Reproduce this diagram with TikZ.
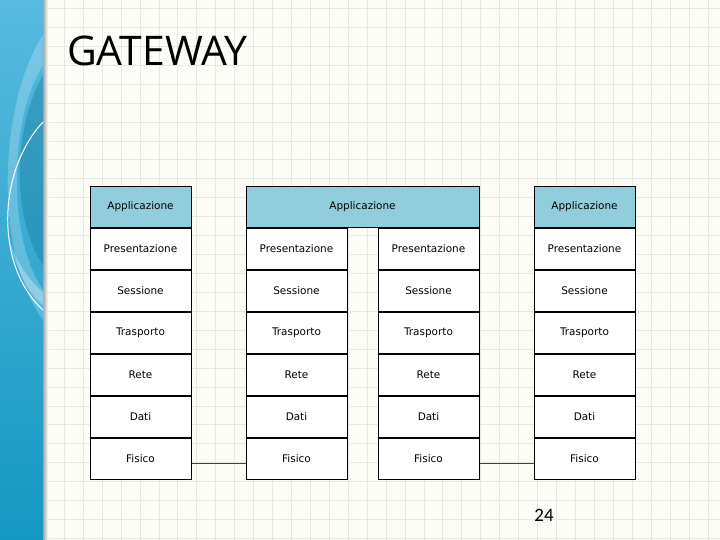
\documentclass[tikz,border=0pt]{standalone}
\usepackage{fontspec}
\setmainfont{DejaVu Sans}
\newfontfamily\slidefont{Open Sans}
\newfontfamily\numfont{Carlito}
\usepackage{tikz}
\usetikzlibrary{positioning,calc}
\definecolor{paper}{RGB}{253,253,248}
\definecolor{gridline}{RGB}{232,232,226}
\definecolor{appfill}{RGB}{146,205,222}
\definecolor{bartop}{RGB}{88,186,224}
\definecolor{barbot}{RGB}{20,152,194}
\tikzstyle{layer} = [rectangle, draw=black, line width=1pt, fill=white,
                     minimum width=101bp, minimum height=41bp, inner sep=0pt,
                     font=\fontsize{10.5}{12}\selectfont]
\tikzstyle{app}   = [layer, fill=appfill]
\tikzstyle{link}  = [line width=0.6pt, draw=black!75]

\begin{document}
\begin{tikzpicture}[x=1bp,y=-1bp,
		gridrule/.style={draw=gridline, line width=0.6pt},
		titletext/.style={font=\slidefont\fontsize{41}{46}\selectfont, anchor=base west, inner sep=0pt},
		pagetext/.style={font=\numfont\fontsize{19}{22}\selectfont}
	]
		\useasboundingbox (0,0) rectangle (720,540);
		\fill[paper] (0,0) rectangle (720,540);
		\foreach \k in {0,...,37}
			\draw[gridrule] ({7.4+18.93*\k},0) -- ++(0,540);
		\foreach \k in {0,...,28}
			\draw[gridrule] (0,{8.3+18.93*\k}) -- ++(720,0);

		% side bar
		\shade[top color=bartop, bottom color=barbot] (0,0) rectangle (43,540);
		\shade[left color=black!35, right color=paper] (43,0) rectangle (48,540);
		\begin{scope}
			\clip (0,0) rectangle (43,540);
			\fill[white, opacity=0.22] (43,35) .. controls (0,100) and (-8,250) .. (43,320)
				-- (43,290) .. controls (8,240) and (8,120) .. (43,65) -- cycle;
			\fill[barbot!75!black, opacity=0.35] (43,75) .. controls (12,130) and (12,220) .. (43,265) -- cycle;
			\fill[white, opacity=0.3] (8,235) .. controls (15,270) and (30,295) .. (43,305)
				-- (43,292) .. controls (28,280) and (15,260) .. cycle;
			\draw[white, line width=1pt] (43,122) .. controls (-2,170) and (-6,265) .. (43,310);
		\end{scope}

		\node[titletext] (title) at (67,66) {GATEWAY};

		\node[app] (a0) at (140.5,207) {Applicazione};
		\node[app, minimum width=233bp] (g0) at (362.5,207) {Applicazione};
		\node[app] (d0) at (584.5,207) {Applicazione};

		\node[layer, below=0pt of a0] (a1) {Presentazione};
		\node[layer, below right=0pt and 0pt of g0.south west] (b1) {Presentazione};
		\node[layer, below left=0pt and 0pt of g0.south east] (c1) {Presentazione};
		\node[layer, below=0pt of d0] (d1) {Presentazione};

		\foreach \col in {a,b,c,d} {
			\foreach \lay [count=\i from 2] in {Sessione,Trasporto,Rete,Dati,Fisico} {
				\pgfmathtruncatemacro\j{\i-1}
				\node[layer, below=0pt of \col\j] (\col\i) {\lay};
			}
		}

		\draw[link] ([yshift=-4bp]a6.east) -- ([yshift=-4bp]b6.west);
		\draw[link] ([yshift=-4bp]c6.east) -- ([yshift=-4bp]d6.west);

		\node[pagetext] (page) at (544,515) {24};
	\end{tikzpicture}
\end{document}
